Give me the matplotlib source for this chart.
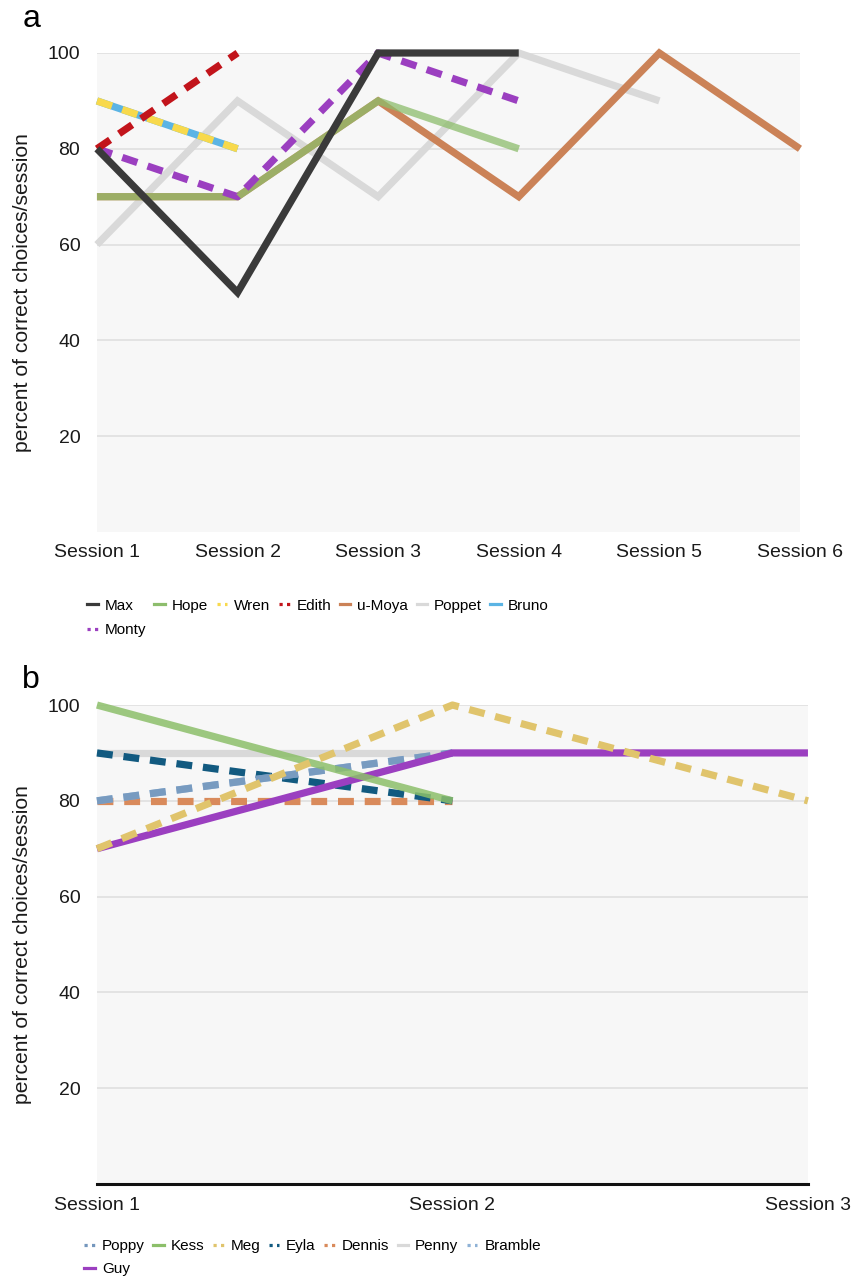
"""
Percent of correct choices per session, two panels (a, b).
"""

import matplotlib.pyplot as plt
from matplotlib import font_manager
from matplotlib.lines import Line2D

# ---- panel a data ----
sessions_a = ["Session 1", "Session 2", "Session 3", "Session 4", "Session 5", "Session 6"]
max_a = [80, 50, 100, 100]
hope_a = [70, 70, 90, 80]
wren_a = [90, 80]
edith_a = [80, 100]
umoya_a = [70, 70, 90, 70, 100, 80]
poppet_a = [60, 90, 70, 100, 90]
bruno_a = [90, 80]
monty_a = [80, 70, 100, 90]

# ---- panel b data ----
sessions_b = ["Session 1", "Session 2", "Session 3"]
poppy_b = [80, 90]
kess_b = [100, 80]
meg_b = [70, 100, 80]
eyla_b = [90, 80]
dennis_b = [80, 80]
penny_b = [90, 90]
bramble_b = [80, 90]
guy_b = [70, 90, 90]

yticks = [20, 40, 60, 80, 100]

installed = {f.name for f in font_manager.fontManager.ttflist}
BASE = "Liberation Sans"
NARROW = "Liberation Sans Narrow" if "Liberation Sans Narrow" in installed else BASE
LEG_SIZE = 12 if NARROW != BASE else 11

plt.rcParams["font.family"] = [BASE, "DejaVu Sans"]

DASH = (2.2, 1.5)


def style_axes(ax, labels, bottom_line=False):
    ax.set_facecolor("#f7f7f7")
    ax.set_xlim(0, len(labels) - 1)
    ax.set_ylim(0, 100)
    ax.set_xticks(range(len(labels)))
    ax.set_xticklabels(labels)
    ax.set_yticks(yticks)
    ax.grid(axis="y", color="#e0e0e0", linewidth=1.2)
    ax.set_axisbelow(True)
    for side in ["top", "right", "left", "bottom"]:
        ax.spines[side].set_visible(False)
    if bottom_line:
        ax.spines["bottom"].set_visible(True)
        ax.spines["bottom"].set_color("#111111")
        ax.spines["bottom"].set_linewidth(2.2)
    ax.tick_params(axis="both", length=0, labelsize=14, colors="#1a1a1a")
    ax.tick_params(axis="y", pad=12)
    ax.tick_params(axis="x", pad=9)
    ax.set_ylabel("percent of correct choices/session", fontsize=15.2, labelpad=11, color="#1a1a1a")


def draw(ax, values, color, dashed=False, alpha=1.0, lw=5.2):
    line, = ax.plot(range(len(values)), values, color=color, lw=lw, alpha=alpha,
                    solid_capstyle="butt", solid_joinstyle="miter", clip_on=False)
    if dashed:
        line.set_dashes(DASH)
        line.set_dash_capstyle("butt")
    return line


def proxy(color, dashed=False):
    h = Line2D([], [], color=color, lw=2.3)
    if dashed:
        h.set_dashes((1.0, 1.35))
    return h


def add_legend(handles, labels, anchor, spacing):
    fig.legend(handles, labels, loc="upper left", bbox_to_anchor=anchor,
               ncol=7, frameon=False, handlelength=0.7, handletextpad=0.45,
               columnspacing=0.55, labelspacing=spacing,
               prop={"family": NARROW, "size": LEG_SIZE})


fig = plt.figure(figsize=(8.52, 12.77), dpi=100)

# ---------------- panel a ----------------
ax1 = fig.add_axes([0.1138, 0.5834, 0.8251, 0.3751])
style_axes(ax1, sessions_a)

c_max, c_hope, c_wren, c_edith = "#3a3a3a", "#8dbd6c", "#f8d94c", "#c2141b"
c_umoya, c_poppet, c_bruno, c_monty = "#cb8257", "#d9d9d9", "#5bb4e4", "#9b3fc0"

draw(ax1, poppet_a, c_poppet)
draw(ax1, umoya_a, c_umoya)
draw(ax1, hope_a, c_hope, alpha=0.75)
draw(ax1, monty_a, c_monty, dashed=True)
draw(ax1, bruno_a, c_bruno)
draw(ax1, wren_a, c_wren, dashed=True)
draw(ax1, edith_a, c_edith, dashed=True)
draw(ax1, max_a, c_max)

# column-major order so rows read Max .. Bruno, then Monty
handles_a = [proxy(c_max), proxy(c_monty, True), proxy(c_hope), proxy(c_wren, True),
             proxy(c_edith, True), proxy(c_umoya), proxy(c_poppet), proxy(c_bruno)]
labels_a = ["Max", "Monty", "Hope", "Wren", "Edith", "u-Moya", "Poppet", "Bruno"]
add_legend(handles_a, labels_a, (0.086, 0.542), 0.68)

fig.text(0.026, 0.9789, "a", fontsize=23, va="baseline", ha="left")

# ---------------- panel b ----------------
ax2 = fig.add_axes([0.1138, 0.0728, 0.8345, 0.3751])
style_axes(ax2, sessions_b, bottom_line=True)

c_poppy, c_kess, c_meg, c_eyla = "#7497bd", "#8cbf6a", "#e0c46c", "#125a80"
c_dennis, c_penny, c_bramble, c_guy = "#d98a5b", "#d9d9d9", "#8fb2d6", "#9b3fc0"

draw(ax2, penny_b, c_penny)
draw(ax2, dennis_b, c_dennis, dashed=True)
draw(ax2, eyla_b, c_eyla, dashed=True)
draw(ax2, bramble_b, c_bramble, dashed=True)
draw(ax2, poppy_b, c_poppy, dashed=True, alpha=0.85)
draw(ax2, guy_b, c_guy)
draw(ax2, kess_b, c_kess, alpha=0.85)
draw(ax2, meg_b, c_meg, dashed=True)

handles_b = [proxy(c_poppy, True), proxy(c_guy), proxy(c_kess), proxy(c_meg, True),
             proxy(c_eyla, True), proxy(c_dennis, True), proxy(c_penny), proxy(c_bramble, True)]
labels_b = ["Poppy", "Guy", "Kess", "Meg", "Eyla", "Dennis", "Penny", "Bramble"]
add_legend(handles_b, labels_b, (0.083, 0.0405), 0.6)

fig.text(0.026, 0.4612, "b", fontsize=23, va="baseline", ha="left")

fig.savefig("out.png", dpi=100)
plt.close(fig)
